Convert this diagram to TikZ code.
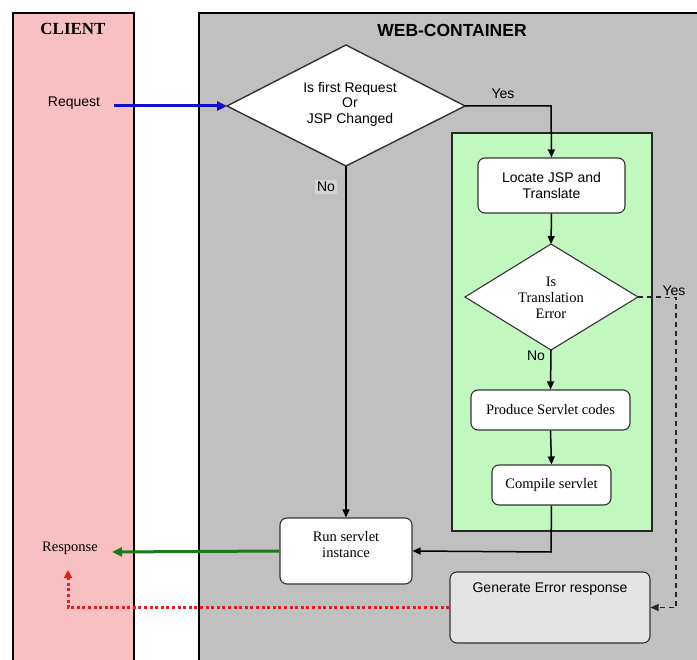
\documentclass[tikz,border=0pt]{standalone}
\usepackage{fontspec}
\setmainfont{Liberation Serif}
\setsansfont{Liberation Sans}
\usetikzlibrary{shapes.geometric,arrows.meta}
\definecolor{pinklane}{HTML}{F8C0C0}
\definecolor{graylane}{HTML}{C0C0C0}
\definecolor{greenbox}{HTML}{C0F8C0}
\definecolor{errbox}{HTML}{E4E4E4}
\definecolor{arrblue}{HTML}{1010C8}
\definecolor{arrgreen}{HTML}{1A7A1A}
\definecolor{arrred}{HTML}{E02020}
\tikzset{
  lane/.style={draw=black, line width=1.8pt},
  proc/.style={draw=black!80, fill=white, rounded corners=7pt, line width=1.1pt},
  dec/.style={draw=black!80, fill=white, line width=1.1pt},
  flow/.style={draw=black, line width=1.5pt, -{Triangle[length=8pt,width=7pt]}},
  sanstxt/.style={font=\sffamily\fontsize{14}{15.5}\selectfont, align=center},
  seriftxt/.style={font=\fontsize{14.5}{16}\selectfont, align=center},
}
\begin{document}
\begin{tikzpicture}[x=1pt,y=-1pt]
\useasboundingbox (0,0) rectangle (697,660);
\begin{scope}
\clip (0,0) rectangle (697,660);
% lanes
\fill[pinklane] (13,13) rectangle (134,665);
\draw[lane] (13,665) -- (13,13) -- (134,13) -- (134,665);
\fill[graylane] (199,13) rectangle (705,665);
\draw[lane] (199,665) -- (199,13) -- (705,13);
\path[draw=black!85, fill=greenbox, line width=1.2pt] (452,133) rectangle (652,531);
\end{scope}
\node[font=\bfseries\fontsize{17}{19}\selectfont] (clienttitle) at (73,29) {CLIENT};
\node[font=\sffamily\bfseries\fontsize{17.5}{19}\selectfont] (webtitle) at (452,30) {WEB-CONTAINER};

% diamonds
\coordinate (d1l) at (227,106);
\coordinate (d1r) at (465,106);
\coordinate (d1t) at (346,45);
\coordinate (d1b) at (346,166);
\path[dec, line width=1.4pt] (d1l) -- (d1t) -- (d1r) -- (d1b) -- cycle;
\node[sanstxt] (d1) at (350,104) {Is first Request\\Or\\JSP Changed};

\coordinate (d2l) at (465,297);
\coordinate (d2r) at (638,297);
\coordinate (d2t) at (551,244);
\coordinate (d2b) at (551,350);
\path[dec] (d2l) -- (d2t) -- (d2r) -- (d2b) -- cycle;
\node[seriftxt] (d2) at (551,298) {Is\\Translation\\Error};

% process boxes
\node[proc, minimum width=147pt, minimum height=55pt, sanstxt] (locate) at (551.5,185.5) {Locate JSP and\\Translate};
\node[proc, minimum width=159pt, minimum height=40pt, seriftxt] (produce) at (550.5,410) {Produce Servlet codes};
\node[proc, minimum width=119pt, minimum height=40pt, seriftxt] (compile) at (551.5,485) {Compile servlet};
\node[proc, minimum width=132pt, minimum height=66pt] (run) at (346,551) {};
\node[seriftxt] (runtxt) at (346,545) {Run servlet\\instance};
\node[proc, fill=errbox, minimum width=200pt, minimum height=71pt] (gen) at (550,607.5) {};
\node[sanstxt] (gentxt) at (550,589) {Generate Error response};

% client labels
\node[sanstxt] (req) at (74,103) {Request};
\node[seriftxt] (resp) at (70,548) {Response};

% connectors
\coordinate (reqs) at (114,106);
\draw[draw=arrblue, line width=3pt, -{Triangle[length=10pt,width=9pt]}] (reqs) -- (d1l);
\node[sanstxt] (yes1) at (503,94) {Yes};
\draw[flow] (d1r) -- (551,106) -- (locate.north);
\draw[flow] (locate.south) -- (d2t);
\draw[flow] (d2b) -- (produce.north);
\draw[flow, line width=1.2pt] (d1b) -- (run.north);
\node[sanstxt, inner sep=1pt] (no2) at (536,356) {No};
\node[sanstxt, fill=graylane!70!white, inner sep=2pt] (no1) at (326,187) {No};
\draw[flow] (produce.south) -- (compile.north);
\draw[flow] (compile.south) -- (551,552) -- (run.east);
\coordinate (respend) at (112,552);
\draw[draw=arrgreen, line width=3pt, -{Triangle[length=10pt,width=9pt]}] (run.west) -- (respend);
\draw[black!85, line width=1.2pt, dash pattern=on 5pt off 4pt, -{Triangle[length=8pt,width=7pt]}] (d2r) -- (676,297) -- (676,607.5) -- (gen.east);
\node[sanstxt, fill=graylane, inner sep=1.5pt] (yes2) at (674,291) {Yes};
\coordinate (redend) at (68,570);
\draw[draw=arrred, line width=3pt, dash pattern=on 3pt off 2.6pt, -{Triangle[length=8pt,width=8pt]}] (gen.west) -- (68,607.5) -- (redend);
\end{tikzpicture}
\end{document}
